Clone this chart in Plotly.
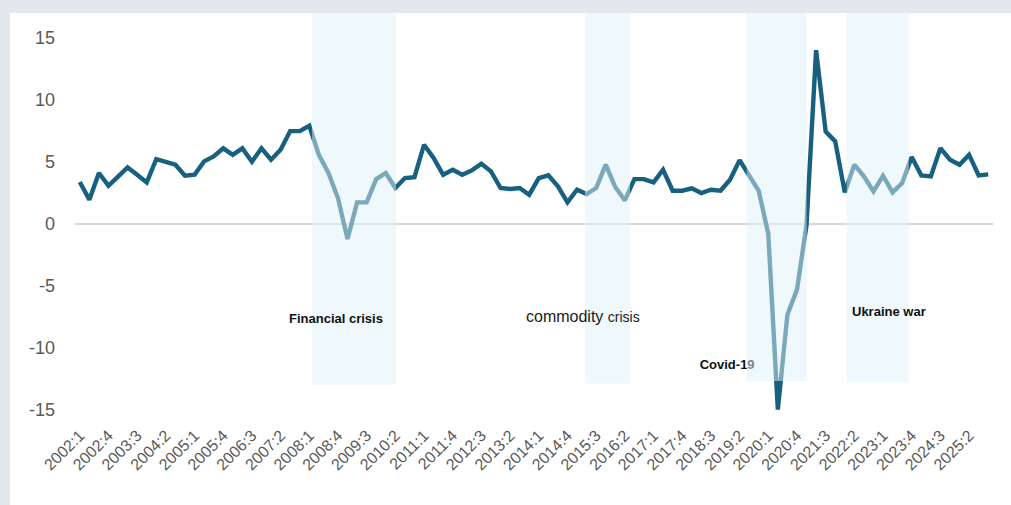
import plotly.graph_objects as go

# Quarterly labels 2002:1 ... 2025:4
quarters = [f"{y}:{q}" for y in range(2002, 2026) for q in range(1, 5)]

# Growth rate, per cent
growth = [
    3.36, 1.94, 4.09, 3.06, 3.80, 4.54, 3.95, 3.33, 5.21, 5.03,
    4.76, 3.87, 3.95, 5.03, 5.43, 6.08, 5.56, 6.08, 5.00, 6.08,
    5.16, 5.97, 7.47, 7.47, 7.90, 5.56, 4.09, 2.07, -1.24, 1.72,
    1.72, 3.60, 4.09, 2.88, 3.68, 3.76, 6.37, 5.30, 3.95, 4.35,
    3.95, 4.30, 4.84, 4.22, 2.88, 2.80, 2.88, 2.34, 3.68, 3.90,
    3.01, 1.72, 2.74, 2.39, 2.88, 4.76, 2.96, 1.88, 3.60, 3.60,
    3.33, 4.35, 2.66, 2.66, 2.85, 2.47, 2.74, 2.66, 3.55, 5.13,
    3.82, 2.65, -0.81, -15.0, -7.34, -5.32, -0.10, 14.0, 7.44, 6.64,
    2.53, 4.76, 3.82, 2.61, 3.87, 2.53, 3.28, 5.38, 3.90, 3.82,
    6.10, 5.16, 4.76, 5.56, 3.90, 3.98,
]

# Crisis periods (positions along the quarter axis) and their labels
crisis_names = ["Financial crisis", "commodity crisis", "Covid-19", "Ukraine war"]
crisis_start = [24.28, 52.83, 69.74, 80.2]
crisis_end = [33.07, 57.54, 76.02, 86.7]
crisis_floor = [-13.0, -12.9, -12.7, -12.8]

# Y axis ticks (plain hyphen for negatives)
y_ticks = [-15, -10, -5, 0, 5, 10, 15]
y_tick_text = [str(v) for v in y_ticks]

# Every third quarter gets a tick label
tick_step = 3

DARK = "#17607f"
GREY_BG = "rgb(225,233,237)"
LABEL_FONT = "Liberation Sans"

pos = list(range(len(quarters)))
tick_pos = pos[::tick_step]
tick_text = quarters[::tick_step]

fig = go.Figure()

fig.add_trace(go.Scatter(
    x=pos, y=growth, mode="lines",
    line=dict(color=DARK, width=4.4),
    customdata=quarters,
    hovertemplate="%{customdata}: %{y}<extra></extra>",
    showlegend=False,
))

# Covid label sits under the shading
fig.add_trace(go.Scatter(
    x=[67.7], y=[-11.45], mode="text",
    text=[f"<b>{crisis_names[2]}</b>"],
    textfont=dict(family=LABEL_FONT, size=13, color="#111111"),
    hoverinfo="skip", showlegend=False,
))

shapes = []
# Grey frame along the top and left edge
shapes.append(dict(type="rect", xref="paper", yref="paper",
                   x0=-0.09, x1=1.03, y0=1.0, y1=1.05,
                   fillcolor=GREY_BG, line=dict(width=0), layer="below"))
shapes.append(dict(type="rect", xref="paper", yref="paper",
                   x0=-0.09, x1=-0.0708, y0=-0.25, y1=1.05,
                   fillcolor=GREY_BG, line=dict(width=0), layer="below"))

for x0, x1, y0 in zip(crisis_start, crisis_end, crisis_floor):
    shapes.append(dict(type="rect", xref="x", yref="y",
                       x0=x0, x1=x1, y0=y0, y1=17,
                       fillcolor="rgba(223,241,247,0.5)",
                       line=dict(width=0), layer="above"))

annotations = [
    dict(x=26.8, y=-7.66, xref="x", yref="y", showarrow=False,
         text=f"<b>{crisis_names[0]}</b>",
         font=dict(family=LABEL_FONT, size=13, color="#111111")),
    dict(x=52.6, y=-7.47, xref="x", yref="y", showarrow=False,
         text="commodity <span style='font-size:14px'>crisis</span>",
         font=dict(family=LABEL_FONT, size=16, color="#1a1a1a")),
    dict(x=84.6, y=-7.07, xref="x", yref="y", showarrow=False,
         text=f"<b>{crisis_names[3]}</b>",
         font=dict(family=LABEL_FONT, size=13, color="#111111")),
]

fig.update_layout(
    width=1011, height=505,
    margin=dict(l=75, r=18, t=13, b=83),
    paper_bgcolor="white", plot_bgcolor="white",
    shapes=shapes, annotations=annotations,
    xaxis=dict(
        range=[-0.5, len(quarters) - 0.5],
        tickmode="array", tickvals=tick_pos, ticktext=tick_text,
        tickangle=-45, showgrid=False, showline=False, zeroline=False,
        ticks="", tickfont=dict(family=LABEL_FONT, size=16, color="#595959"),
    ),
    yaxis=dict(
        range=[-16, 17], tickmode="array",
        tickvals=y_ticks, ticktext=y_tick_text,
        showgrid=False, showline=False, zeroline=True,
        zerolinecolor="#d9d9d9", zerolinewidth=2,
        ticks="", ticklabelstandoff=19,
        tickfont=dict(family=LABEL_FONT, size=18, color="#595959"),
    ),
)

fig.write_html("out.html")
